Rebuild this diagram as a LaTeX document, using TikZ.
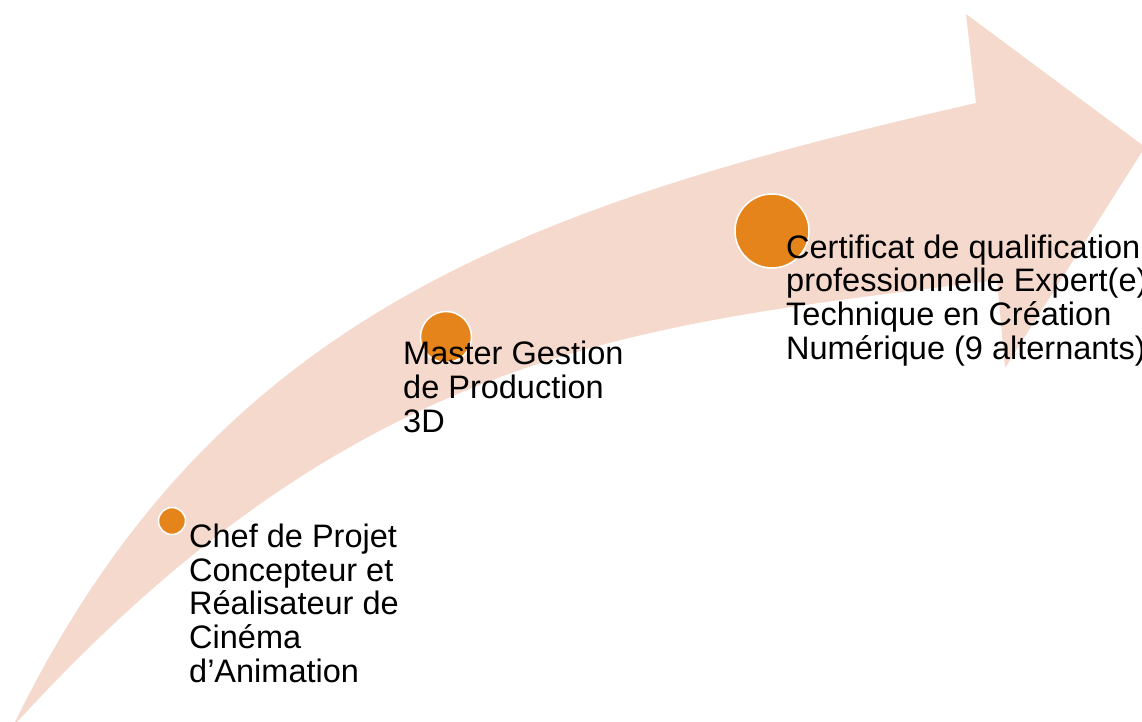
\documentclass[tikz,border=0pt]{standalone}
\usepackage{fontspec}
\setmainfont{Liberation Sans}
\usepackage{tikz}
\definecolor{peach}{HTML}{F5D9CD}
\definecolor{milestone}{HTML}{E5841A}
\tikzset{
    %Define style for the milestone dots
    dot/.style={
           circle,
           fill=milestone,
           draw=white,
           line width=1.5pt,
           inner sep=0pt},
    % Define style for the texts (anchored at the last baseline)
    steptext/.style={
           anchor=base west,
           align=left,
           inner sep=0pt,
           font=\fontsize{32.5}{33.6}\selectfont}
}

\begin{document}
\begin{tikzpicture}[x=1pt,y=-1pt]
	\useasboundingbox (0,0) rectangle (1142,722);

	% Curved arrow
	\fill[peach] (15,722) .. controls (215,314) and (526,206) .. (976,103)
	   -- (966,14) -- (1145,147) -- (1005,368) -- (997,280)
	   .. controls (647,325) and (367,340) .. (17,722) -- cycle;

	% Milestones
	\node[dot, minimum size=27pt] (small) at (172,521) {};
	\node[dot, minimum size=51pt] (medium) at (446,337) {};
	\node[dot, minimum size=74pt] (large) at (772,231) {};

	\node[steptext] (chef) at ([shift={(17,161)}]small.center)
	     {Chef de Projet\\Concepteur et\\Réalisateur de\\Cinéma\\d’Animation};
	\node[steptext] (master) at ([shift={(-43,95)}]medium.center)
	     {Master Gestion\\de Production\\3D};
	\node[steptext] (cert) at ([shift={(14,128)}]large.center)
	     {Certificat de qualification\\professionnelle Expert(e)\\Technique en Création\\Numérique (9 alternants)};
\end{tikzpicture}
\end{document}
